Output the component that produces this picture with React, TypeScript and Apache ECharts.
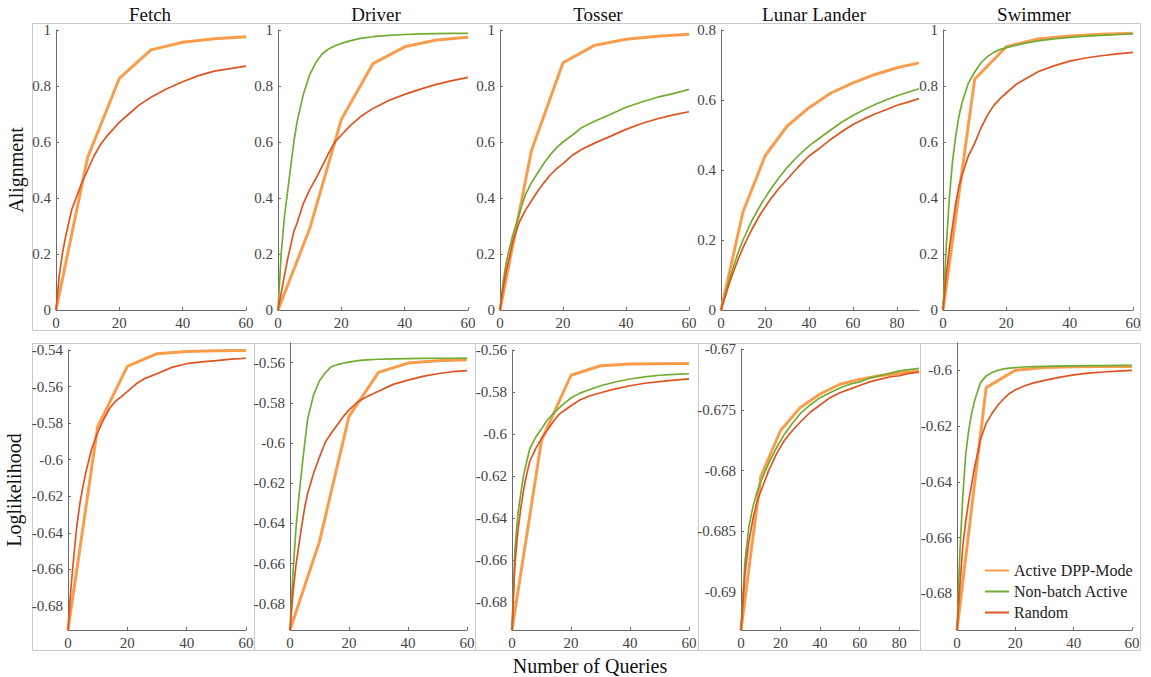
import React, { useEffect, useRef } from "react";
import * as echarts from "echarts";

// ---------- data ----------
const X60 = [0, 1, 2, 3, 4, 5, 6, 8, 10, 12, 14, 16, 18, 20, 23, 26, 30, 35, 40, 45, 50, 55, 60];
const X90 = [0, 2, 4, 6, 8, 10, 14, 18, 22, 26, 30, 35, 40, 45, 50, 55, 60, 65, 70, 75, 80, 85, 90];
const DPP_X60 = [0, 10, 20, 30, 40, 50, 60];
const DPP_X90 = [0, 10, 20, 30, 40, 50, 60, 70, 80, 90];

const ENV_TITLES = ["Fetch", "Driver", "Tosser", "Lunar Lander", "Swimmer"];
const SERIES_NAMES = ["Active DPP-Mode", "Non-batch Active", "Random"];

const X_TICKS_60 = [0, 20, 40, 60];
const X_TICKS_90 = [0, 20, 40, 60, 80];
const ALIGN_TICKS = [0, 0.2, 0.4, 0.6, 0.8, 1];
const ALIGN_TICKS_LUNAR = [0, 0.2, 0.4, 0.6, 0.8];
const LL_TICKS_FETCH = [-0.68, -0.66, -0.64, -0.62, -0.6, -0.58, -0.56, -0.54];
const LL_TICKS_DRIVER = [-0.68, -0.66, -0.64, -0.62, -0.6, -0.58, -0.56];
const LL_TICKS_TOSSER = [-0.68, -0.66, -0.64, -0.62, -0.6, -0.58, -0.56];
const LL_TICKS_LUNAR = [-0.69, -0.685, -0.68, -0.675, -0.67];
const LL_TICKS_SWIMMER = [-0.68, -0.66, -0.64, -0.62, -0.6];

// Alignment
const fetchAlignDPP = [0, 0.545, 0.827, 0.929, 0.956, 0.969, 0.976];
const fetchAlignRandom = [0, 0.12, 0.2, 0.26, 0.31, 0.36, 0.39, 0.45, 0.5, 0.55, 0.59, 0.62, 0.645, 0.67, 0.7, 0.73, 0.76, 0.79, 0.815, 0.837, 0.853, 0.862, 0.871];

const driverAlignDPP = [0, 0.29, 0.68, 0.88, 0.94, 0.964, 0.974];
const driverAlignNonBatch = [0, 0.2, 0.33, 0.42, 0.51, 0.6, 0.67, 0.77, 0.84, 0.885, 0.915, 0.932, 0.944, 0.952, 0.962, 0.97, 0.976, 0.981, 0.984, 0.986, 0.987, 0.988, 0.988];
const driverAlignRandom = [0, 0.06, 0.12, 0.18, 0.23, 0.28, 0.31, 0.38, 0.43, 0.47, 0.515, 0.56, 0.6, 0.625, 0.66, 0.69, 0.72, 0.748, 0.77, 0.789, 0.806, 0.819, 0.831];

const tosserAlignDPP = [0, 0.57, 0.883, 0.945, 0.967, 0.978, 0.985];
const tosserAlignNonBatch = [0, 0.1, 0.17, 0.22, 0.265, 0.3, 0.34, 0.41, 0.455, 0.49, 0.525, 0.555, 0.58, 0.6, 0.625, 0.652, 0.674, 0.698, 0.724, 0.743, 0.76, 0.773, 0.788];
const tosserAlignRandom = [0, 0.08, 0.14, 0.19, 0.24, 0.275, 0.31, 0.355, 0.39, 0.425, 0.455, 0.483, 0.505, 0.523, 0.553, 0.574, 0.596, 0.62, 0.645, 0.666, 0.683, 0.697, 0.708];

const lunarAlignDPP = [0, 0.28, 0.44, 0.525, 0.578, 0.62, 0.649, 0.673, 0.692, 0.706];
const lunarAlignNonBatch = [0, 0.045, 0.09, 0.13, 0.168, 0.2, 0.255, 0.3, 0.34, 0.375, 0.407, 0.44, 0.469, 0.492, 0.515, 0.537, 0.556, 0.572, 0.587, 0.6, 0.612, 0.622, 0.632];
const lunarAlignRandom = [0, 0.04, 0.08, 0.115, 0.148, 0.178, 0.23, 0.275, 0.312, 0.345, 0.373, 0.408, 0.44, 0.463, 0.488, 0.51, 0.53, 0.546, 0.56, 0.572, 0.585, 0.594, 0.604];

const swimmerAlignDPP = [0, 0.824, 0.94, 0.968, 0.979, 0.985, 0.988];
const swimmerAlignNonBatch = [0, 0.22, 0.4, 0.53, 0.62, 0.69, 0.74, 0.81, 0.85, 0.883, 0.905, 0.92, 0.93, 0.937, 0.946, 0.953, 0.961, 0.968, 0.974, 0.978, 0.981, 0.984, 0.986];
const swimmerAlignRandom = [0, 0.12, 0.22, 0.3, 0.38, 0.44, 0.48, 0.55, 0.595, 0.65, 0.695, 0.73, 0.755, 0.775, 0.805, 0.825, 0.851, 0.872, 0.889, 0.9, 0.908, 0.915, 0.92];

// Loglikelihood
const fetchLLDPP = [-0.6931, -0.582, -0.549, -0.542, -0.5408, -0.5404, -0.5403];
const fetchLLRandom = [-0.6931, -0.67, -0.652, -0.636, -0.624, -0.615, -0.607, -0.594, -0.585, -0.578, -0.572, -0.568, -0.5655, -0.5628, -0.5585, -0.5555, -0.553, -0.5495, -0.5475, -0.5465, -0.5458, -0.545, -0.5445];

const driverLLDPP = [-0.6931, -0.649, -0.5867, -0.5648, -0.5602, -0.559, -0.5586];
const driverLLNonBatch = [-0.6931, -0.665, -0.643, -0.627, -0.613, -0.6, -0.588, -0.576, -0.569, -0.565, -0.562, -0.561, -0.5603, -0.5597, -0.559, -0.5586, -0.5583, -0.5581, -0.558, -0.5579, -0.5578, -0.5578, -0.5577];
const driverLLRandom = [-0.6931, -0.675, -0.661, -0.651, -0.641, -0.632, -0.625, -0.615, -0.607, -0.5995, -0.595, -0.591, -0.587, -0.5835, -0.5795, -0.577, -0.5742, -0.5708, -0.5687, -0.5668, -0.5655, -0.5645, -0.564];

const tosserLLDPP = [-0.6931, -0.603, -0.572, -0.5675, -0.5667, -0.5665, -0.5664];
const tosserLLNonBatch = [-0.6931, -0.655, -0.638, -0.628, -0.619, -0.613, -0.607, -0.6015, -0.5975, -0.5933, -0.5902, -0.5875, -0.585, -0.5828, -0.5805, -0.579, -0.577, -0.5752, -0.5738, -0.5728, -0.572, -0.5716, -0.5713];
const tosserLLRandom = [-0.6931, -0.662, -0.646, -0.635, -0.626, -0.619, -0.613, -0.607, -0.602, -0.598, -0.594, -0.5905, -0.5885, -0.5865, -0.5838, -0.582, -0.5803, -0.5785, -0.577, -0.5758, -0.575, -0.5743, -0.5737];

const lunarLLDPP = [-0.6931, -0.6805, -0.6767, -0.6748, -0.6737, -0.6729, -0.6725, -0.6722, -0.672, -0.6718];
const lunarLLNonBatch = [-0.6931, -0.6875, -0.6846, -0.683, -0.6818, -0.6809, -0.6794, -0.6781, -0.677, -0.6761, -0.6753, -0.6746, -0.674, -0.6736, -0.6732, -0.6729, -0.6727, -0.6724, -0.6722, -0.672, -0.6718, -0.6717, -0.6716];
const lunarLLRandom = [-0.6931, -0.6885, -0.6858, -0.684, -0.6826, -0.6817, -0.68, -0.6786, -0.6775, -0.6767, -0.676, -0.6752, -0.6746, -0.674, -0.6736, -0.6733, -0.673, -0.6727, -0.6725, -0.6723, -0.6722, -0.672, -0.6719];

const swimmerLLDPP = [-0.6931, -0.6062, -0.6, -0.599, -0.5987, -0.5986, -0.5986];
const swimmerLLNonBatch = [-0.6931, -0.665, -0.645, -0.63, -0.6216, -0.6155, -0.611, -0.6045, -0.602, -0.6008, -0.6, -0.5995, -0.5992, -0.599, -0.5988, -0.5987, -0.5986, -0.5985, -0.5984, -0.5983, -0.5983, -0.5982, -0.5982];
const swimmerLLRandom = [-0.6931, -0.677, -0.663, -0.654, -0.647, -0.641, -0.635, -0.625, -0.619, -0.6155, -0.6125, -0.6102, -0.6083, -0.607, -0.6056, -0.6046, -0.6036, -0.6025, -0.6016, -0.601, -0.6006, -0.6003, -0.6];

// ---------- styling / layout ----------
const FONT = '"Liberation Serif", "DejaVu Serif", serif';
const COLOR_DPP = "#F99D4C";
const COLOR_NB = "#72AC32";
const COLOR_RND = "#DF5420";
const AXIS_COLOR = "#6a6a6a";
const LABEL_COLOR = "#444";
const BOX_COLOR = "#c9c9c9";

type Panel = {
  grid: { left: number; top: number; width: number; height: number };
  xMax: number;
  xTicks: number[];
  yMin: number;
  yMax: number;
  yTicks: number[];
  x: number[];
  dppX: number[];
  dpp: number[];
  nonbatch: number[] | null;
  random: number[];
  yName?: string;
  yNameGap?: number;
};

const panels: Panel[] = [
  { grid: { left: 56, top: 30, width: 190, height: 280 }, xMax: 60, xTicks: X_TICKS_60, yMin: 0, yMax: 1, yTicks: ALIGN_TICKS, x: X60, dppX: DPP_X60, dpp: fetchAlignDPP, nonbatch: null, random: fetchAlignRandom, yName: "Alignment", yNameGap: 30 },
  { grid: { left: 278, top: 30, width: 190, height: 280 }, xMax: 60, xTicks: X_TICKS_60, yMin: 0, yMax: 1, yTicks: ALIGN_TICKS, x: X60, dppX: DPP_X60, dpp: driverAlignDPP, nonbatch: driverAlignNonBatch, random: driverAlignRandom },
  { grid: { left: 500, top: 30, width: 189, height: 280 }, xMax: 60, xTicks: X_TICKS_60, yMin: 0, yMax: 1, yTicks: ALIGN_TICKS, x: X60, dppX: DPP_X60, dpp: tosserAlignDPP, nonbatch: tosserAlignNonBatch, random: tosserAlignRandom },
  { grid: { left: 721, top: 30, width: 198, height: 280 }, xMax: 90, xTicks: X_TICKS_90, yMin: 0, yMax: 0.8, yTicks: ALIGN_TICKS_LUNAR, x: X90, dppX: DPP_X90, dpp: lunarAlignDPP, nonbatch: lunarAlignNonBatch, random: lunarAlignRandom },
  { grid: { left: 943, top: 30, width: 190, height: 280 }, xMax: 60, xTicks: X_TICKS_60, yMin: 0, yMax: 1, yTicks: ALIGN_TICKS, x: X60, dppX: DPP_X60, dpp: swimmerAlignDPP, nonbatch: swimmerAlignNonBatch, random: swimmerAlignRandom },

  { grid: { left: 68, top: 350, width: 178, height: 280 }, xMax: 60, xTicks: X_TICKS_60, yMin: -0.6931, yMax: -0.54, yTicks: LL_TICKS_FETCH, x: X60, dppX: DPP_X60, dpp: fetchLLDPP, nonbatch: null, random: fetchLLRandom, yName: "Loglikelihood", yNameGap: 44 },
  { grid: { left: 290, top: 343, width: 177, height: 287 }, xMax: 60, xTicks: X_TICKS_60, yMin: -0.6931, yMax: -0.5502, yTicks: LL_TICKS_DRIVER, x: X60, dppX: DPP_X60, dpp: driverLLDPP, nonbatch: driverLLNonBatch, random: driverLLRandom },
  { grid: { left: 512, top: 350, width: 177, height: 280 }, xMax: 60, xTicks: X_TICKS_60, yMin: -0.6931, yMax: -0.56, yTicks: LL_TICKS_TOSSER, x: X60, dppX: DPP_X60, dpp: tosserLLDPP, nonbatch: tosserLLNonBatch, random: tosserLLRandom },
  { grid: { left: 741, top: 349, width: 178, height: 281 }, xMax: 90, xTicks: X_TICKS_90, yMin: -0.6931, yMax: -0.67, yTicks: LL_TICKS_LUNAR, x: X90, dppX: DPP_X90, dpp: lunarLLDPP, nonbatch: lunarLLNonBatch, random: lunarLLRandom },
  { grid: { left: 957, top: 343, width: 175, height: 287 }, xMax: 60, xTicks: X_TICKS_60, yMin: -0.6931, yMax: -0.5902, yTicks: LL_TICKS_SWIMMER, x: X60, dppX: DPP_X60, dpp: swimmerLLDPP, nonbatch: swimmerLLNonBatch, random: swimmerLLRandom },
];

const TITLE_X = [145, 371, 593, 809, 1029];
const BOTTOM_BOX_X = [32, 254, 475, 698, 920, 1140];

const fmt = (v: number) => String(+Number(v).toFixed(4));

function buildOption() {
  const grids: any[] = [];
  const xAxes: any[] = [];
  const yAxes: any[] = [];
  const series: any[] = [];

  panels.forEach((p, i) => {
    grids.push({ ...p.grid, containLabel: false });
    xAxes.push({
      type: "value",
      gridIndex: i,
      min: 0,
      max: p.xMax,
      axisLine: { show: true, onZero: false, lineStyle: { color: AXIS_COLOR, width: 1 } },
      axisTick: { show: true, inside: true, length: 3, customValues: p.xTicks, lineStyle: { color: AXIS_COLOR } },
      axisLabel: { customValues: p.xTicks, formatter: fmt, color: LABEL_COLOR, fontFamily: FONT, fontSize: 15, margin: 5 },
      splitLine: { show: false },
    });
    yAxes.push({
      type: "value",
      gridIndex: i,
      min: p.yMin,
      max: p.yMax,
      name: p.yName || "",
      nameLocation: "middle",
      nameRotate: 90,
      nameGap: p.yNameGap || 0,
      nameTextStyle: { fontFamily: FONT, fontSize: 20, color: "#111" },
      axisLine: { show: true, onZero: false, lineStyle: { color: AXIS_COLOR, width: 1 } },
      axisTick: { show: true, inside: true, length: 3, customValues: p.yTicks, lineStyle: { color: AXIS_COLOR } },
      axisLabel: { customValues: p.yTicks, formatter: fmt, color: LABEL_COLOR, fontFamily: FONT, fontSize: 15, margin: 5 },
      splitLine: { show: false },
    });
    const common = { type: "line", xAxisIndex: i, yAxisIndex: i, symbol: "none", showSymbol: false, smooth: false };
    series.push({
      ...common,
      name: SERIES_NAMES[0],
      data: p.dppX.map((q, k) => [q, p.dpp[k]]),
      lineStyle: { color: COLOR_DPP, width: 3 },
      itemStyle: { color: COLOR_DPP },
      z: 2,
    });
    if (p.nonbatch) {
      const nb = p.nonbatch;
      series.push({
        ...common,
        name: SERIES_NAMES[1],
        data: p.x.map((q, k) => [q, nb[k]]),
        lineStyle: { color: COLOR_NB, width: 1.7 },
        itemStyle: { color: COLOR_NB },
        z: 3,
      });
    }
    series.push({
      ...common,
      name: SERIES_NAMES[2],
      data: p.x.map((q, k) => [q, p.random[k]]),
      lineStyle: { color: COLOR_RND, width: 1.7 },
      itemStyle: { color: COLOR_RND },
      z: 4,
    });
  });

  const titles: any[] = ENV_TITLES.map((t, i) => ({
    text: t,
    left: TITLE_X[i],
    top: 0,
    textAlign: "center",
    textStyle: { fontFamily: FONT, fontSize: 19, fontWeight: "normal", color: "#111" },
  }));
  titles.push({
    text: "Number of Queries",
    left: 585,
    top: 651,
    textAlign: "center",
    textStyle: { fontFamily: FONT, fontSize: 20, fontWeight: "normal", color: "#111" },
  });

  const graphics: any[] = [
    {
      type: "rect",
      shape: { x: 32.5, y: 23.5, width: 1108, height: 307 },
      style: { fill: "none", stroke: BOX_COLOR, lineWidth: 1 },
      silent: true,
      z: -1,
    },
  ];
  for (let i = 0; i < 5; i++) {
    graphics.push({
      type: "rect",
      shape: { x: BOTTOM_BOX_X[i] + 0.5, y: 343.5, width: BOTTOM_BOX_X[i + 1] - BOTTOM_BOX_X[i], height: 307 },
      style: { fill: "none", stroke: BOX_COLOR, lineWidth: 1 },
      silent: true,
      z: -1,
    });
  }

  return {
    animation: false,
    backgroundColor: "#ffffff",
    textStyle: { fontFamily: FONT },
    title: titles,
    grid: grids,
    xAxis: xAxes,
    yAxis: yAxes,
    series,
    graphic: graphics,
    legend: {
      data: SERIES_NAMES,
      orient: "vertical",
      left: 980,
      top: 557,
      itemWidth: 24,
      itemHeight: 12,
      itemGap: 4,
      textStyle: { fontFamily: FONT, fontSize: 16, color: "#222", lineHeight: 17 },
      icon: "path://M0,0 L24,0 L24,2 L0,2 Z",
      selectedMode: false,
    },
  };
}

export default function App() {
  const ref = useRef<HTMLDivElement>(null);
  useEffect(() => {
    if (!ref.current) return;
    const chart = echarts.init(ref.current, undefined, { renderer: "svg" });
    chart.setOption(buildOption() as any);
    return () => chart.dispose();
  }, []);
  return (
    <div
      ref={ref}
      style={{ position: "absolute", left: 0, top: 0, width: 1151, height: 677, background: "#fff" }}
    />
  );
}
